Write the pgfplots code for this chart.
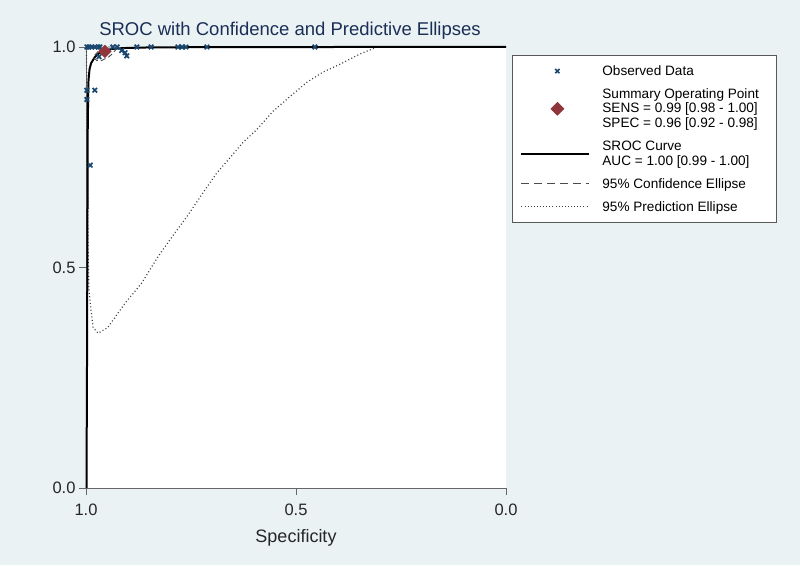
\documentclass[border=0pt]{standalone}
\usepackage{pgfplots}
\pgfplotsset{compat=1.18}
\usepackage{fontspec}
\setmainfont{Liberation Sans}
\definecolor{bgc}{RGB}{234,242,243}
\definecolor{titc}{RGB}{26,46,86}
\definecolor{obsc}{RGB}{26,71,111}
\definecolor{sopc}{RGB}{144,53,59}
\pgfplotsset{
  lineimg/.style={legend image code/.code={\draw[##1] (0pt,0pt) -- (68pt,0pt);}},
  markimg/.style={legend image code/.code={\path (0pt,0pt) (68pt,0pt); \draw[##1] plot coordinates {(36pt,0pt)};}},
}
\begin{document}
\begin{tikzpicture}[x=1pt,y=1pt]
\fill[bgc] (0,0) rectangle (800,565);
\useasboundingbox (0,0) rectangle (800,565);
\node[anchor=base, font=\fontsize{18.5}{20}\selectfont, text=titc] at (290,529) {SROC with Confidence and Predictive Ellipses};
\begin{axis}[
  at={(86pt,77pt)}, anchor=south west,
  scale only axis, width=420pt, height=441pt,
  x dir=reverse, xmin=0, xmax=1, ymin=0, ymax=1,
  clip=false,
  axis x line*=bottom, axis y line*=left,
  axis line style={draw=black!60, line width=0.9pt},
  axis background/.style={fill=white},
  xtick={0,0.5,1}, ytick={0,0.5,1},
  tick align=outside, major tick length=7pt,
  tick style={black!60, line width=0.9pt},
  ticklabel style={font=\fontsize{16.5}{18}\selectfont, text=black!85},
  xticklabel style={yshift=-5pt},
  /pgf/number format/.cd, fixed, fixed zerofill, precision=1, assume math mode=true,
  /pgfplots/.cd,
  xlabel={Specificity},
  xlabel style={font=\fontsize{18}{20}\selectfont, text=black!85, at={(axis description cs:0.5,-0.1247)}, anchor=base},
  legend style={
    at={(axis description cs:1.01429,0.9819)}, anchor=north west,
    draw=black!65, line width=0.8pt, fill=white,
    font=\fontsize{13.6}{13.5}\selectfont,
    inner xsep=8pt, inner ysep=10pt, row sep=11.5pt,
    nodes={inner sep=0pt},
    cells={anchor=west, align=left},
    /tikz/every odd column/.append style={column sep=12pt},
  },
]
% 95% prediction ellipse
\addplot[forget plot, black!75, line width=1.2pt, dash pattern=on 1pt off 2.4pt] coordinates {
(0.307,1.000) (0.348,0.984) (0.395,0.961) (0.436,0.943) (0.474,0.920) (0.514,0.888)
(0.555,0.854) (0.593,0.813) (0.626,0.784) (0.657,0.749) (0.688,0.715) (0.721,0.670)
(0.760,0.615) (0.788,0.579) (0.829,0.524) (0.867,0.465) (0.907,0.419) (0.948,0.364)
(0.971,0.351) (0.983,0.364) (0.988,0.403) (0.993,0.449) (0.995,0.540) (0.996,0.654)
(0.997,0.768) (0.998,0.880) (0.9985,0.950) (0.999,1.000)
};
% SROC curve
\addplot[forget plot, black, line width=2pt] coordinates {
(0.9988,0) (0.9975,0.3) (0.9965,0.6) (0.996,0.8) (0.995,0.88) (0.994,0.925)
(0.9915,0.95) (0.988,0.963) (0.979,0.977) (0.970,0.985) (0.963,0.989) (0.950,0.993)
(0.939,0.9955) (0.920,0.997) (0.900,0.998) (0.850,0.999) (0.700,0.9997) (0.400,1) (0,1)
};
% 95% confidence ellipse
\addplot[forget plot, black!70, line width=0.9pt, dash pattern=on 5pt off 3pt] coordinates {
(0.981,0.975) (0.974,0.969) (0.964,0.969) (0.955,0.973) (0.945,0.978) (0.936,0.986)
(0.929,0.994) (0.929,0.999) (0.936,1.000) (0.948,1.000) (0.960,0.997) (0.971,0.990)
(0.979,0.982) (0.981,0.975)
};
% observed data
\addplot[forget plot, only marks, mark=x, mark size=3.2pt, obsc, line width=1.7pt] coordinates {
(0.9976,1) (0.993,1) (0.986,1) (0.979,1) (0.971,1) (0.967,1) (0.936,1) (0.926,1)
(0.879,1) (0.845,1) (0.781,1) (0.771,1) (0.762,1) (0.712,1) (0.455,1)
(0.969,0.978) (0.915,0.992) (0.907,0.987) (0.903,0.980)
(0.979,0.902) (0.998,0.902) (0.998,0.881) (0.990,0.732)
};
% summary operating point
\addplot[forget plot, only marks, mark=square*, mark size=4.5pt, mark options={rotate=45, fill=sopc, draw=sopc}] coordinates {(0.955,0.99)};

\addlegendimage{markimg, only marks, mark=x, mark size=3pt, obsc, line width=1.6pt}
\addlegendentry{\strut\makebox[166pt][l]{Observed Data}}
\addlegendimage{markimg, only marks, mark=square*, mark size=4.5pt, mark options={rotate=45, fill=sopc, draw=sopc}}
\addlegendentry{\strut Summary Operating Point\\\strut SENS = 0.99 [0.98 - 1.00]\\\strut SPEC = 0.96 [0.92 - 0.98]}
\addlegendimage{lineimg, black, line width=2pt}
\addlegendentry{\strut SROC Curve\\\strut AUC = 1.00 [0.99 - 1.00]}
\addlegendimage{lineimg, black!70, line width=1pt, dash pattern=on 8pt off 5pt}
\addlegendentry{\strut 95\% Confidence Ellipse}
\addlegendimage{lineimg, black!75, line width=1.1pt, dash pattern=on 0.9pt off 2.2pt}
\addlegendentry{\strut 95\% Prediction Ellipse}
\end{axis}
\end{tikzpicture}
\end{document}
